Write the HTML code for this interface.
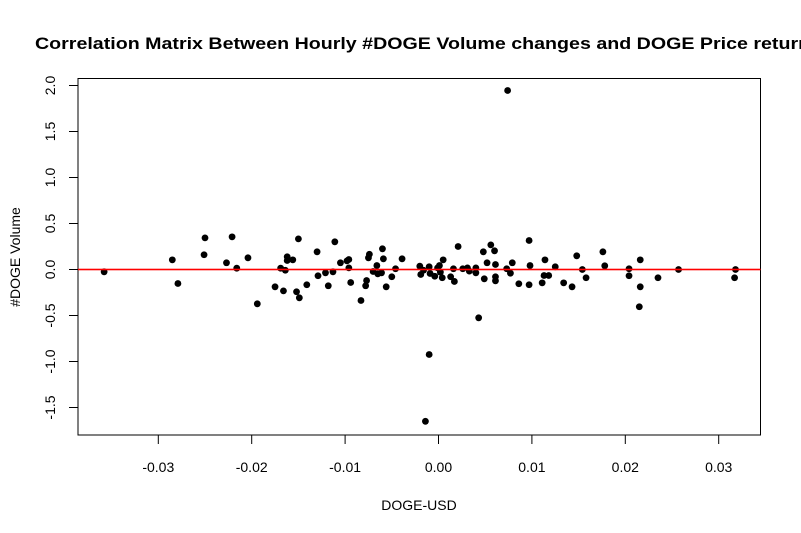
<!DOCTYPE html>
<html><head><meta charset="utf-8"><style>
html,body{margin:0;padding:0;background:#fff;}
svg{display:block;font-family:"Liberation Sans",Arial,sans-serif;}
</style></head><body>
<svg id="chart" width="801" height="533" viewBox="0 0 801 533">
<rect width="801" height="533" fill="#fff"/>
<text x="35" y="49" font-size="17" font-weight="bold" textLength="786" lengthAdjust="spacingAndGlyphs">Correlation Matrix Between Hourly #DOGE Volume changes and DOGE Price returns</text>
<rect x="78" y="78.5" width="682.5" height="356.5" fill="none" stroke="#000" stroke-width="1"/>
<g id="xaxis"></g>
<g id="yaxis"></g>
<text x="419" y="510" font-size="14" text-anchor="middle">DOGE-USD</text>
<text transform="translate(20,257) rotate(-90)" font-size="14" text-anchor="middle">#DOGE Volume</text>
<g id="points"></g>
<rect x="78" width="682.5" height="1.6" id="refline" fill="#ff0000"/>
</svg>
<script>
const xTicks = [-0.03,-0.02,-0.01,0.00,0.01,0.02,0.03];
const xTickLabels = ["-0.03","-0.02","-0.01","0.00","0.01","0.02","0.03"];
const yTicks = [-1.5,-1.0,-0.5,0.0,0.5,1.0,1.5,2.0];
const yTickLabels = ["-1.5","-1.0","-0.5","0.0","0.5","1.0","1.5","2.0"];
const priceReturn = [-0.0358,-0.0285,-0.0279,-0.0250,-0.0251,-0.0221,-0.0227,-0.0216,-0.0204,-0.0194,-0.0175,-0.0166,-0.0169,-0.0164,-0.0162,-0.0162,-0.0156,-0.0150,-0.0152,-0.0149,-0.0141,-0.0130,-0.0129,-0.0121,-0.0118,-0.0113,-0.0111,-0.0105,-0.0098,-0.0096,-0.0096,-0.0094,-0.0083,-0.0078,-0.0077,-0.0075,-0.0074,-0.0070,-0.0066,-0.0065,-0.0061,-0.0060,-0.0059,-0.0056,-0.0050,-0.0046,-0.0039,-0.0020,-0.0019,-0.0016,-0.0010,-0.0009,-0.0004,-0.0001,0.0001,0.0002,0.0004,0.0005,0.0013,0.0016,0.0017,0.0021,0.0026,0.0031,0.0033,0.0040,0.0040,0.0043,0.0048,0.0049,0.0052,0.0056,0.0060,0.0061,0.0061,0.0061,0.0073,0.0077,0.0079,0.0086,0.0097,0.0098,0.0097,0.0111,0.0114,0.0113,0.0118,0.0125,0.0134,0.0143,0.0148,0.0154,0.0158,0.0176,0.0178,0.0204,0.0204,0.0216,0.0216,0.0215,0.0235,0.0257,0.0318,0.0317,0.0074,-0.0010,-0.0014];
const volumeChange = [-0.025,0.105,-0.152,0.344,0.160,0.355,0.073,0.014,0.127,-0.373,-0.188,-0.232,0.014,-0.008,0.138,0.098,0.105,0.333,-0.242,-0.308,-0.166,0.192,-0.068,-0.036,-0.177,-0.025,0.301,0.073,0.094,0.109,0.018,-0.141,-0.337,-0.177,-0.120,0.127,0.166,-0.022,0.043,-0.047,-0.036,0.225,0.116,-0.188,-0.079,0.008,0.116,0.036,-0.054,-0.008,0.029,-0.043,-0.073,0.018,0.043,-0.029,-0.090,0.105,-0.079,0.008,-0.130,0.250,0.008,0.018,-0.018,0.018,-0.036,-0.525,0.192,-0.101,0.073,0.268,0.203,-0.079,-0.123,0.054,0.008,-0.040,0.073,-0.155,0.315,0.043,-0.166,-0.145,0.105,-0.065,-0.065,0.029,-0.145,-0.188,0.149,0.000,-0.090,0.192,0.040,0.008,-0.068,0.105,-0.188,-0.405,-0.090,0.000,0.000,-0.090,1.946,-0.924,-1.650];
const NS="http://www.w3.org/2000/svg";
function xs(v){return 438.5 + v*9340;}
function ys(v){return 269.5 - v*92;}
const xa=document.getElementById('xaxis'), ya=document.getElementById('yaxis'), pts=document.getElementById('points');
function mk(tag,attrs,parent){const e=document.createElementNS(NS,tag);for(const k in attrs)e.setAttribute(k,attrs[k]);parent.appendChild(e);return e;}
mk('line',{x1:xs(xTicks[0]),x2:xs(xTicks[xTicks.length-1]),y1:435,y2:435,stroke:'#000'},xa);
xTicks.forEach((t,i)=>{
  const l=mk('line',{x1:xs(t),x2:xs(t),y1:435,y2:444,stroke:'#000'},xa);
  
  
  const tx=mk('text',{x:xs(t),y:472,'font-size':14,'text-anchor':'middle'},xa);
  tx.textContent=xTickLabels[i];
  
  
});
yTicks.forEach((t,i)=>{
  const l=mk('line',{x1:69,x2:78,y1:ys(t),y2:ys(t),stroke:'#000'},ya);
  
  
  const tx=mk('text',{transform:'translate(55,'+ys(t)+') rotate(-90)','font-size':14,'text-anchor':'middle'},ya);
  tx.textContent=yTickLabels[i];
  
  
});
const rl=document.getElementById('refline');
rl.setAttribute('y',ys(0)-0.8);
priceReturn.forEach((x,i)=>{
  const c=mk('circle',{cx:xs(x),cy:ys(volumeChange[i]),r:3.4,fill:'#000'},pts);
  
  
});
</script>
</body></html>
